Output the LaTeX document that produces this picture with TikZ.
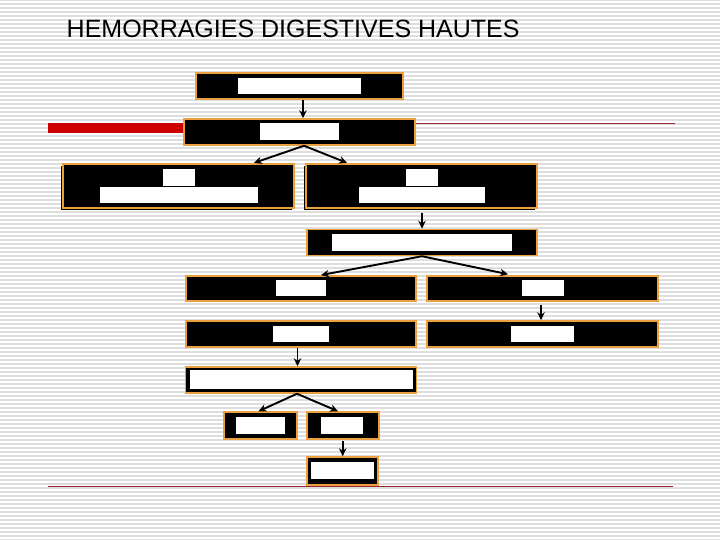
\documentclass[tikz,border=0pt]{standalone}
\usepackage{fontspec}
\setmainfont{Liberation Sans}
\usetikzlibrary{arrows.meta,shadows}
\definecolor{boxorange}{RGB}{234,160,60}
\definecolor{stripegray}{RGB}{222,222,222}
\definecolor{barred}{RGB}{204,0,0}
\definecolor{thinred}{RGB}{150,40,45}
\tikzset{
  blackbox/.style={draw=boxorange, fill=black, line width=1.5pt, inner sep=0pt, rectangle},
  shadowbox/.style={blackbox, drop shadow={shadow xshift=-2pt, shadow yshift=-2pt, fill=black, opacity=1}},
  whitebox/.style={fill=white, draw=none, inner sep=0pt, rectangle},
  arr/.style={draw=black, line width=1.9pt, -{Stealth[length=8pt,width=7.5pt]}},
  stripe/.style={draw=stripegray, line width=1.2pt},
}
\begin{document}
\begin{tikzpicture}[x=1pt,y=-1pt]
\useasboundingbox (0,0) rectangle (720,540);
\fill[white] (0,0) rectangle (720,540);
\foreach \yy in {0,4,...,540} \draw[stripe] (0,\yy) -- (720,\yy);
% title
\node[anchor=base west, inner sep=0pt, font=\fontsize{25}{30}\selectfont] (title) at (66.5,37.3) {HEMORRAGIES DIGESTIVES HAUTES};
% red lines
\fill[barred] (48,123.3) rectangle (184,132.7);
\draw[thinred, line width=1pt] (415,123.5) -- (675,123.5);
\draw[thinred, line width=1pt] (48,486) -- (673,486);
% boxes
\node[blackbox, minimum width=207pt, minimum height=26pt] (b1) at (299.5,86) {};
\node[whitebox, minimum width=123pt, minimum height=16pt] (w1) at (299.5,86) {};
\node[blackbox, minimum width=231pt, minimum height=26pt] (b2) at (299.5,132) {};
\node[whitebox, minimum width=79pt, minimum height=17pt] (w2) at (299.5,131.5) {};
\node[shadowbox, minimum width=231pt, minimum height=44pt] (b3) at (178.5,186) {};
\node[whitebox, minimum width=32pt, minimum height=17pt] (w3a) at (179,177.5) {};
\node[whitebox, minimum width=158pt, minimum height=16pt] (w3b) at (179,195) {};
\node[shadowbox, minimum width=231pt, minimum height=44pt] (b4) at (421.5,186) {};
\node[whitebox, minimum width=32pt, minimum height=17pt] (w4a) at (422,177.5) {};
\node[whitebox, minimum width=126pt, minimum height=16pt] (w4b) at (422,195) {};
\node[blackbox, minimum width=230pt, minimum height=26pt] (b5) at (422,242.5) {};
\node[whitebox, minimum width=180pt, minimum height=17pt] (w5) at (422,242.5) {};
\node[blackbox, minimum width=230pt, minimum height=25pt] (b6) at (301,288.5) {};
\node[whitebox, minimum width=50pt, minimum height=16pt] (w6) at (301,288) {};
\node[blackbox, minimum width=231pt, minimum height=25pt] (b7) at (542.5,288.5) {};
\node[whitebox, minimum width=42pt, minimum height=16pt] (w7) at (543,288) {};
\node[blackbox, minimum width=230pt, minimum height=26pt] (b8) at (301,334) {};
\node[whitebox, minimum width=56pt, minimum height=16pt] (w8) at (301,334) {};
\node[blackbox, minimum width=231pt, minimum height=26pt] (b9) at (542.5,334) {};
\node[whitebox, minimum width=63pt, minimum height=16pt] (w9) at (542.5,334) {};
\node[blackbox, minimum width=231pt, minimum height=26pt] (b10) at (301,380) {};
\node[whitebox, minimum width=223pt, minimum height=19pt] (w10) at (301.5,379.5) {};
\node[blackbox, minimum width=73pt, minimum height=27pt] (b11) at (260.5,425.5) {};
\node[whitebox, minimum width=49pt, minimum height=17pt] (w11) at (260.5,425.5) {};
\node[blackbox, minimum width=72pt, minimum height=27pt] (b12) at (343,425.5) {};
\node[whitebox, minimum width=42pt, minimum height=17pt] (w12) at (342,425.5) {};
\node[blackbox, minimum width=71pt, minimum height=28pt] (b13) at (342.5,471) {};
\node[whitebox, minimum width=63pt, minimum height=17pt] (w13) at (342.5,470.5) {};
% arrows
\draw[arr] ([xshift=3.5pt]b1.south) -- ([xshift=3.5pt]b2.north);
\draw[arr, shorten >=1pt] ([xshift=4.5pt]b2.south) -- ([xshift=74.5pt]b3.north);
\draw[arr, shorten >=1pt] ([xshift=4.5pt]b2.south) -- ([xshift=-73.5pt]b4.north);
\draw[arr, shorten <=4pt] ([xshift=0.5pt]b4.south) -- ([xshift=0pt]b5.north);
\draw[arr, shorten >=1pt] (b5.south) -- ([xshift=19pt]b6.north);
\draw[arr, shorten >=5pt] (b5.south) -- ([xshift=-29.5pt]b7.north);
\draw[arr, shorten <=3pt] ([xshift=-1.5pt]b7.south) -- ([xshift=-1.5pt]b9.north);
\draw[arr] ([xshift=-3.5pt]b8.south) -- ([xshift=-3.5pt]b10.north);
\draw[arr] ([xshift=-4pt]b10.south) -- ([xshift=-2pt]b11.north);
\draw[arr] ([xshift=-4pt]b10.south) -- ([xshift=-5pt]b12.north);
\draw[arr, shorten <=1pt] ([xshift=-0.3pt]b12.south) -- ([xshift=0.2pt]b13.north);
\end{tikzpicture}
\end{document}
